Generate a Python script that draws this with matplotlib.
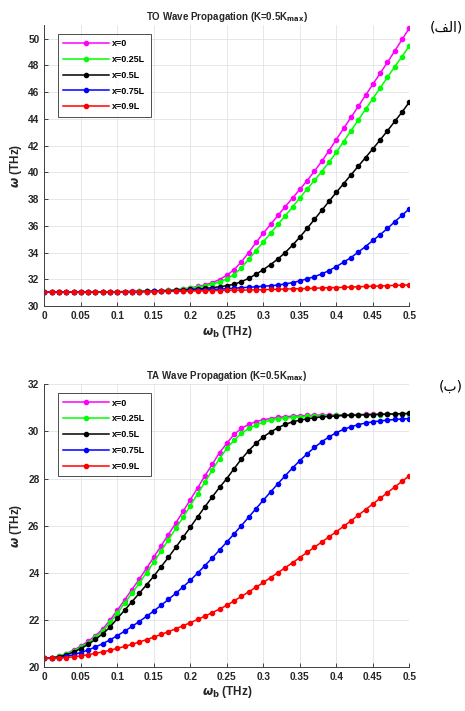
import numpy as np
import matplotlib
matplotlib.use('Agg')
import matplotlib.pyplot as plt

plt.rcParams['font.family'] = ['Liberation Sans', 'DejaVu Sans']
plt.rcParams['font.weight'] = 'bold'
plt.rcParams['axes.labelweight'] = 'bold'

wb = np.linspace(0, 0.5, 51)
labels = ['x=0', 'x=0.25L', 'x=0.5L', 'x=0.75L', 'x=0.9L']
colors = ['#ff00ff', '#00ff00', '#000000', '#0000ff', '#ff0000']

# TO branch
to_x0 = [31.05, 31.05, 31.05, 31.05, 31.05, 31.05, 31.06, 31.06, 31.06, 31.07,
         31.07, 31.08, 31.09, 31.10, 31.11, 31.13, 31.15, 31.18, 31.22, 31.28,
         31.36, 31.46, 31.58, 31.74, 31.98, 32.30, 32.72, 33.30, 34.00, 34.75,
         35.45, 36.10, 36.77, 37.43, 38.07, 38.72, 39.38, 40.08, 40.82, 41.62,
         42.45, 43.28, 44.10, 44.92, 45.75, 46.58, 47.40, 48.22, 49.07, 49.93, 50.78]
to_x25 = [31.05, 31.05, 31.05, 31.05, 31.05, 31.05, 31.06, 31.06, 31.06, 31.07,
          31.07, 31.08, 31.08, 31.09, 31.10, 31.12, 31.14, 31.17, 31.20, 31.25,
          31.32, 31.40, 31.50, 31.63, 31.80, 32.03, 32.35, 32.85, 33.50, 34.15,
          34.80, 35.45, 36.10, 36.75, 37.40, 38.08, 38.75, 39.40, 40.05, 40.75,
          41.50, 42.30, 43.10, 43.90, 44.70, 45.50, 46.30, 47.10, 47.90, 48.65, 49.45]
to_x50 = [31.05, 31.05, 31.05, 31.05, 31.05, 31.05, 31.06, 31.06, 31.06, 31.06,
          31.07, 31.07, 31.08, 31.08, 31.09, 31.10, 31.12, 31.14, 31.17, 31.20,
          31.24, 31.28, 31.32, 31.37, 31.44, 31.52, 31.63, 31.82, 32.07, 32.38,
          32.72, 33.10, 33.52, 34.00, 34.55, 35.15, 35.80, 36.48, 37.15, 37.83,
          38.50, 39.15, 39.80, 40.45, 41.10, 41.75, 42.42, 43.10, 43.80, 44.50, 45.25]
to_x75 = [31.05, 31.05, 31.05, 31.05, 31.05, 31.05, 31.05, 31.06, 31.06, 31.06,
          31.06, 31.07, 31.07, 31.08, 31.08, 31.09, 31.10, 31.11, 31.13, 31.15,
          31.18, 31.20, 31.22, 31.24, 31.27, 31.30, 31.33, 31.37, 31.40, 31.44,
          31.48, 31.52, 31.57, 31.65, 31.75, 31.88, 32.03, 32.20, 32.40, 32.65,
          32.95, 33.28, 33.62, 34.03, 34.45, 34.90, 35.33, 35.80, 36.30, 36.78, 37.27]
to_x90 = [31.05, 31.05, 31.05, 31.05, 31.05, 31.05, 31.05, 31.05, 31.06, 31.06,
          31.06, 31.06, 31.07, 31.07, 31.08, 31.08, 31.09, 31.09, 31.10, 31.11,
          31.12, 31.13, 31.14, 31.15, 31.16, 31.17, 31.18, 31.19, 31.20, 31.21,
          31.22, 31.24, 31.25, 31.27, 31.28, 31.30, 31.31, 31.33, 31.35, 31.37,
          31.38, 31.40, 31.42, 31.44, 31.46, 31.48, 31.50, 31.52, 31.54, 31.56, 31.57]

# TA branch
ta_x0 = [20.35, 20.38, 20.45, 20.56, 20.70, 20.88, 21.08, 21.32, 21.60, 21.98,
         22.40, 22.84, 23.28, 23.72, 24.18, 24.66, 25.14, 25.62, 26.10, 26.60,
         27.10, 27.60, 28.12, 28.60, 29.10, 29.50, 29.88, 30.13, 30.30, 30.42,
         30.50, 30.55, 30.60, 30.63, 30.65, 30.67, 30.68, 30.69, 30.70, 30.70,
         30.71, 30.71, 30.72, 30.72, 30.73, 30.73, 30.73, 30.74, 30.74, 30.75, 30.75]
ta_x25 = [20.35, 20.38, 20.44, 20.54, 20.67, 20.83, 21.02, 21.25, 21.52, 21.88,
          22.28, 22.70, 23.12, 23.55, 24.00, 24.45, 24.92, 25.40, 25.88, 26.35,
          26.85, 27.35, 27.85, 28.35, 28.85, 29.28, 29.63, 29.92, 30.13, 30.27,
          30.40, 30.48, 30.53, 30.57, 30.60, 30.62, 30.64, 30.65, 30.66, 30.67,
          30.68, 30.69, 30.70, 30.70, 30.71, 30.72, 30.72, 30.73, 30.74, 30.74, 30.75]
ta_x50 = [20.35, 20.37, 20.42, 20.50, 20.62, 20.77, 20.95, 21.16, 21.40, 21.68,
          22.05, 22.40, 22.76, 23.12, 23.48, 23.85, 24.25, 24.65, 25.07, 25.50,
          25.93, 26.37, 26.80, 27.22, 27.62, 28.00, 28.42, 28.83, 29.18, 29.50,
          29.77, 29.98, 30.16, 30.30, 30.41, 30.48, 30.54, 30.58, 30.62, 30.64,
          30.66, 30.68, 30.69, 30.70, 30.71, 30.72, 30.73, 30.74, 30.75, 30.76, 30.77]
ta_x75 = [20.35, 20.36, 20.39, 20.44, 20.51, 20.60, 20.71, 20.84, 20.98, 21.14,
          21.32, 21.51, 21.71, 21.92, 22.14, 22.37, 22.61, 22.86, 23.12, 23.39,
          23.67, 23.98, 24.30, 24.62, 24.96, 25.30, 25.65, 26.00, 26.36, 26.72,
          27.08, 27.43, 27.78, 28.12, 28.45, 28.76, 29.05, 29.32, 29.56, 29.77,
          29.95, 30.09, 30.20, 30.29, 30.36, 30.41, 30.45, 30.48, 30.51, 30.53, 30.55]
ta_x90 = [20.35, 20.36, 20.37, 20.39, 20.42, 20.46, 20.51, 20.57, 20.63, 20.70,
          20.78, 20.86, 20.95, 21.05, 21.15, 21.26, 21.37, 21.49, 21.61, 21.74,
          21.87, 22.01, 22.15, 22.30, 22.45, 22.61, 22.80, 22.99, 23.18, 23.38,
          23.58, 23.79, 24.00, 24.21, 24.42, 24.64, 24.86, 25.08, 25.30, 25.52,
          25.74, 25.97, 26.20, 26.44, 26.68, 26.92, 27.16, 27.40, 27.64, 27.88, 28.12]

xticks = [0, 0.05, 0.1, 0.15, 0.2, 0.25, 0.3, 0.35, 0.4, 0.45, 0.5]
xticklabels = ['0', '0.05', '0.1', '0.15', '0.2', '0.25', '0.3', '0.35', '0.4', '0.45', '0.5']
txt = '#262626'


def draw_panel(ax, series, title, ylim, yticks):
    for y, lab, c in zip(series, labels, colors):
        ax.plot(wb, y, '-', marker='o', markersize=3, lw=1.1, color=c, label=lab)
    ax.set_xlim(0, 0.5)
    ax.set_ylim(*ylim)
    ax.set_xticks(xticks)
    ax.set_xticklabels(xticklabels)
    ax.set_yticks(yticks)
    ax.tick_params(direction='in', length=3, labelsize=7.3, colors=txt, width=0.6)
    ax.grid(True, color='#e3e3e3', lw=0.6)
    ax.set_axisbelow(True)
    for s in ['top', 'right']:
        ax.spines[s].set_visible(False)
    for s in ['left', 'bottom']:
        ax.spines[s].set_color('#404040')
        ax.spines[s].set_linewidth(0.7)
    ax.set_title(title, fontsize=7, fontweight='bold', color=txt, pad=4)
    ax.set_xlabel(r'$\omega_\mathbf{b}$ (THz)', fontsize=8.5, fontweight='bold',
                  color=txt, labelpad=2)
    ax.set_ylabel(r'$\omega$ (THz)', fontsize=8.5, fontweight='bold', color=txt, labelpad=3)
    leg = ax.legend(loc='upper left', fontsize=6.5, frameon=True, fancybox=False,
                    handlelength=5, labelspacing=0.75, borderpad=0.6, handletextpad=0.4,
                    bbox_to_anchor=(0.025, 0.985))
    leg.get_frame().set_edgecolor('#202020')
    leg.get_frame().set_linewidth(0.7)


fig = plt.figure(figsize=(4.65, 7.11), dpi=100)
ax1 = fig.add_axes([0.0953, 0.5696, 0.785, 0.395])
ax2 = fig.add_axes([0.0953, 0.0623, 0.785, 0.397])

draw_panel(ax1, [to_x0, to_x25, to_x50, to_x75, to_x90],
           r'TO Wave Propagation (K=0.5K$_\mathbf{max}$)', (30, 51),
           [30, 32, 34, 36, 38, 40, 42, 44, 46, 48, 50])
draw_panel(ax2, [ta_x0, ta_x25, ta_x50, ta_x75, ta_x90],
           r'TA Wave Propagation (K=0.5K$_\mathbf{max}$)', (20, 32),
           [20, 22, 24, 26, 28, 30, 32])

# panel tags, Persian letters in visual order
fig.text(0.995, 0.962, '(\ufed2\ufedf\ufe8d)', ha='right', va='center', fontsize=10,
         fontweight='normal', family=['DejaVu Sans'])
fig.text(0.995, 0.456, '(\u0628)', ha='right', va='center', fontsize=10,
         fontweight='normal', family=['DejaVu Sans'])

fig.savefig('out.png', dpi=100)
